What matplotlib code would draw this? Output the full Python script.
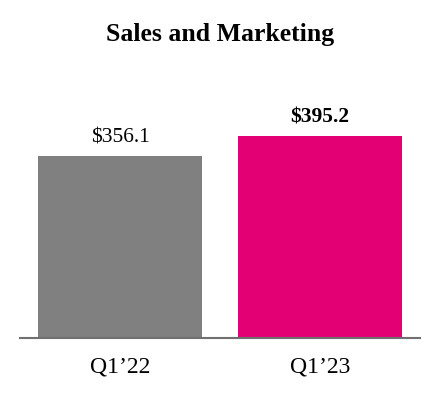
import matplotlib.pyplot as plt

plt.rcParams['font.family'] = ['Liberation Serif', 'DejaVu Serif']

categories = ["Q1\u201922", "Q1\u201923"]
values = [356.1, 395.2]
labels = ["$356.1", "$395.2"]
colors = ["#808080", "#E20074"]
bold = [False, True]

fig = plt.figure(figsize=(4.4, 4.0), dpi=100)
ax = fig.add_axes([0.0455, 0.155, 0.909, 0.645])

x = range(len(categories))
ax.bar(x, values, width=0.82, color=colors)

for i, (v, lab, b) in enumerate(zip(values, labels, bold)):
    ax.annotate(lab, (i, v), textcoords="offset points", xytext=(0, 6),
                ha='center', va='bottom', fontsize=15.5,
                fontweight='bold' if b else 'normal')

ax.set_xlim(-0.5, 1.5)
ax.set_ylim(0, 505)
ax.set_xticks(list(x))
ax.set_xticklabels(categories, fontsize=17)
ax.tick_params(axis='x', length=0, pad=13)
ax.set_yticks([])

for s in ['top', 'right', 'left']:
    ax.spines[s].set_visible(False)
ax.spines['bottom'].set_color('#707070')
ax.spines['bottom'].set_linewidth(1.5)

fig.text(0.5, 0.915, "Sales and Marketing", ha='center', va='center',
         fontsize=18.5, fontweight='bold')

fig.savefig("out.png", dpi=100, facecolor='white')
